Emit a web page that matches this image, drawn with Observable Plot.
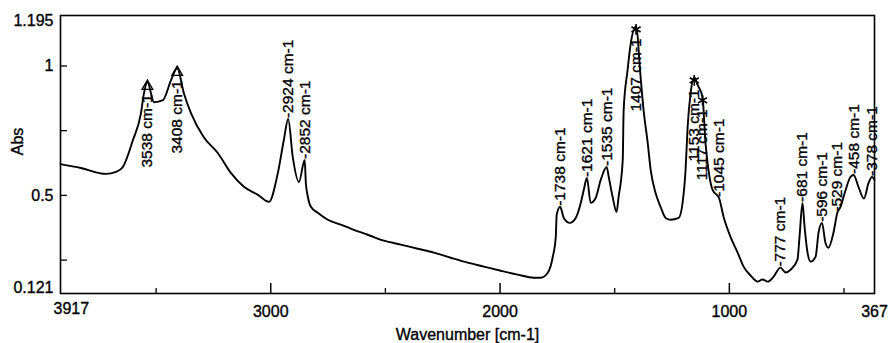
<!DOCTYPE html>
<html><head><meta charset="utf-8">
<script src="https://cdn.jsdelivr.net/npm/d3@7"></script>
<script src="https://cdn.jsdelivr.net/npm/@observablehq/plot@0.6"></script>
<style>html,body{margin:0;padding:0;background:#fff} svg{display:block}</style>
</head><body><div id="chart"></div>
<script>
// Spectrum (wavenumber in cm-1, absorbance)
const wavenumber = [3917,3828,3719,3675,3645,3601,3566,3553,3538,3509,3470,3435,3408,3379,3348,3292,3231,3174,3117,3056,3008,2969,2943,2924,2904,2877,2852,2847,2838,2825,2795,2751,2694,2638,2577,2507,2433,2359,2289,2215,2141,2071,1997,1923,1853,1823,1792,1770,1757,1753,1738,1722,1696,1670,1648,1635,1621,1605,1583,1561,1535,1526,1509,1492,1483,1465,1461,1444,1430,1407,1387,1374,1356,1343,1322,1300,1278,1256,1221,1204,1191,1182,1169,1153,1138,1117,1104,1091,1073,1045,1025,995,964,938,907,877,855,833,807,777,755,733,703,694,681,672,659,646,624,611,596,581,568,546,529,515,493,472,458,437,413,393,378,367];
const absorbance = [0.621,0.606,0.583,0.591,0.610,0.714,0.818,0.895,0.937,0.860,0.868,0.945,0.991,0.895,0.818,0.725,0.664,0.587,0.533,0.502,0.475,0.587,0.714,0.795,0.648,0.552,0.637,0.548,0.494,0.456,0.433,0.406,0.387,0.367,0.348,0.325,0.310,0.294,0.279,0.259,0.240,0.225,0.209,0.194,0.182,0.182,0.201,0.263,0.340,0.425,0.456,0.413,0.394,0.413,0.471,0.521,0.567,0.471,0.490,0.560,0.610,0.571,0.494,0.436,0.494,0.637,0.829,0.983,1.087,1.153,0.956,0.829,0.702,0.598,0.510,0.456,0.413,0.406,0.413,0.471,0.598,0.764,0.895,0.956,0.926,0.879,0.702,0.598,0.521,0.490,0.417,0.340,0.279,0.225,0.190,0.167,0.175,0.167,0.186,0.221,0.202,0.213,0.252,0.340,0.471,0.379,0.279,0.244,0.263,0.356,0.394,0.317,0.298,0.356,0.433,0.456,0.521,0.571,0.579,0.533,0.488,0.548,0.571,0.560];

// Peak annotations
const peaksLabelAbove = [2924,2852,1738,1621,1535,1045,777,681,596,529,458,378];
const peaksTriangle = [3538,3408];
const peaksStar = [1407,1153,1117];

// Axes
const xDomain = [3917, 367];
const yDomain = [0.121, 1.195];
const xTickLabels = [3000, 2000, 1000, 367];
const xStartLabel = [3917];
const xMajorTicks = [3000, 2000, 1000];
const xMinorTicks = [3500, 2500, 1500, 500];
const yTickLabels = [1, 0.5];
const yTopLabel = [1.195];
const yBottomLabel = [0.121];
const yTicks = [1, 0.75, 0.5, 0.25];

const spectrum = wavenumber.map((w, i) => ({wn: w, abs: absorbance[i]}));
const absAt = w => absorbance[wavenumber.indexOf(w)];
const peaks = ws => ws.map(w => ({wn: w, abs: absAt(w)}));

const W = 890, H = 343, mL = 60, mR = 16, mT = 15, mB = 50;
const innerW = W - mL - mR, innerH = H - mT - mB;
const font = "'Liberation Sans', Arial, Helvetica, sans-serif";
const ink = {fill: "#000", stroke: "#000", strokeWidth: 0.35};

const chart = Plot.plot({
  width: W, height: H,
  marginLeft: mL, marginRight: mR, marginTop: mT, marginBottom: mB,
  x: {domain: xDomain, axis: null},
  y: {domain: yDomain, axis: null},
  style: {fontFamily: font, fontSize: "16px", background: "#fff", color: "#000"},
  marks: [
    Plot.ruleY(yTicks, {y: d => d, insetRight: innerW - 7, stroke: "#000", strokeWidth: 1.3}),
    Plot.ruleX(xMajorTicks, {x: d => d, insetTop: innerH - 10, stroke: "#000", strokeWidth: 1.5}),
    Plot.ruleX(xMinorTicks, {x: d => d, insetTop: innerH - 5, stroke: "#000", strokeWidth: 1.3}),
    Plot.line(spectrum, {x: "wn", y: "abs", stroke: "#000", strokeWidth: 1.9, strokeLinejoin: "round", curve: "monotone-x"}),
    Plot.dot(peaks(peaksTriangle), {x: "wn", y: "abs", symbol: "triangle", r: 4, stroke: "#000", fill: "none", strokeWidth: 1.3, dy: 4}),
    Plot.dot(peaks(peaksStar), {x: "wn", y: "abs", symbol: "asterisk", r: 5, stroke: "#000", strokeWidth: 1.6, dy: 3}),
    Plot.text(peaks(peaksLabelAbove), {x: "wn", y: "abs", text: d => `-${d.wn} cm-1`, rotate: -90, textAnchor: "start", lineAnchor: "middle", fontSize: 15.5, ...ink, dy: -1}),
    Plot.text(peaks([...peaksTriangle, ...peaksStar]), {x: "wn", y: "abs", text: d => `${d.wn} cm-1`, rotate: -90, textAnchor: "end", lineAnchor: "middle", fontSize: 15.5, ...ink, dy: 12}),
    Plot.frame({stroke: "#000", strokeWidth: 1.6}),
    Plot.text(xTickLabels, {x: d => d, frameAnchor: "bottom", dy: 18, text: d => String(d), textAnchor: "middle", lineAnchor: "middle", ...ink}),
    Plot.text(xStartLabel, {x: d => d, frameAnchor: "bottom", dy: 15, dx: -7, text: d => String(d), textAnchor: "start", lineAnchor: "middle", ...ink}),
    Plot.text(yTickLabels, {y: d => d, frameAnchor: "left", dx: -7, text: d => String(d), textAnchor: "end", lineAnchor: "middle", ...ink}),
    Plot.text(yTopLabel, {y: d => d, frameAnchor: "left", dx: -7, dy: 5, text: d => String(d), textAnchor: "end", lineAnchor: "middle", ...ink}),
    Plot.text(yBottomLabel, {y: d => d, frameAnchor: "left", dx: -7, dy: -6, text: d => String(d), textAnchor: "end", lineAnchor: "middle", ...ink}),
    Plot.text(["Abs"], {frameAnchor: "left", dx: -43, dy: -13, rotate: -90, textAnchor: "middle", lineAnchor: "middle", ...ink}),
    Plot.text(["Wavenumber [cm-1]"], {frameAnchor: "bottom", dy: 41, textAnchor: "middle", lineAnchor: "middle", ...ink})
  ]
});
document.getElementById("chart").appendChild(chart);
</script>
</body></html>
